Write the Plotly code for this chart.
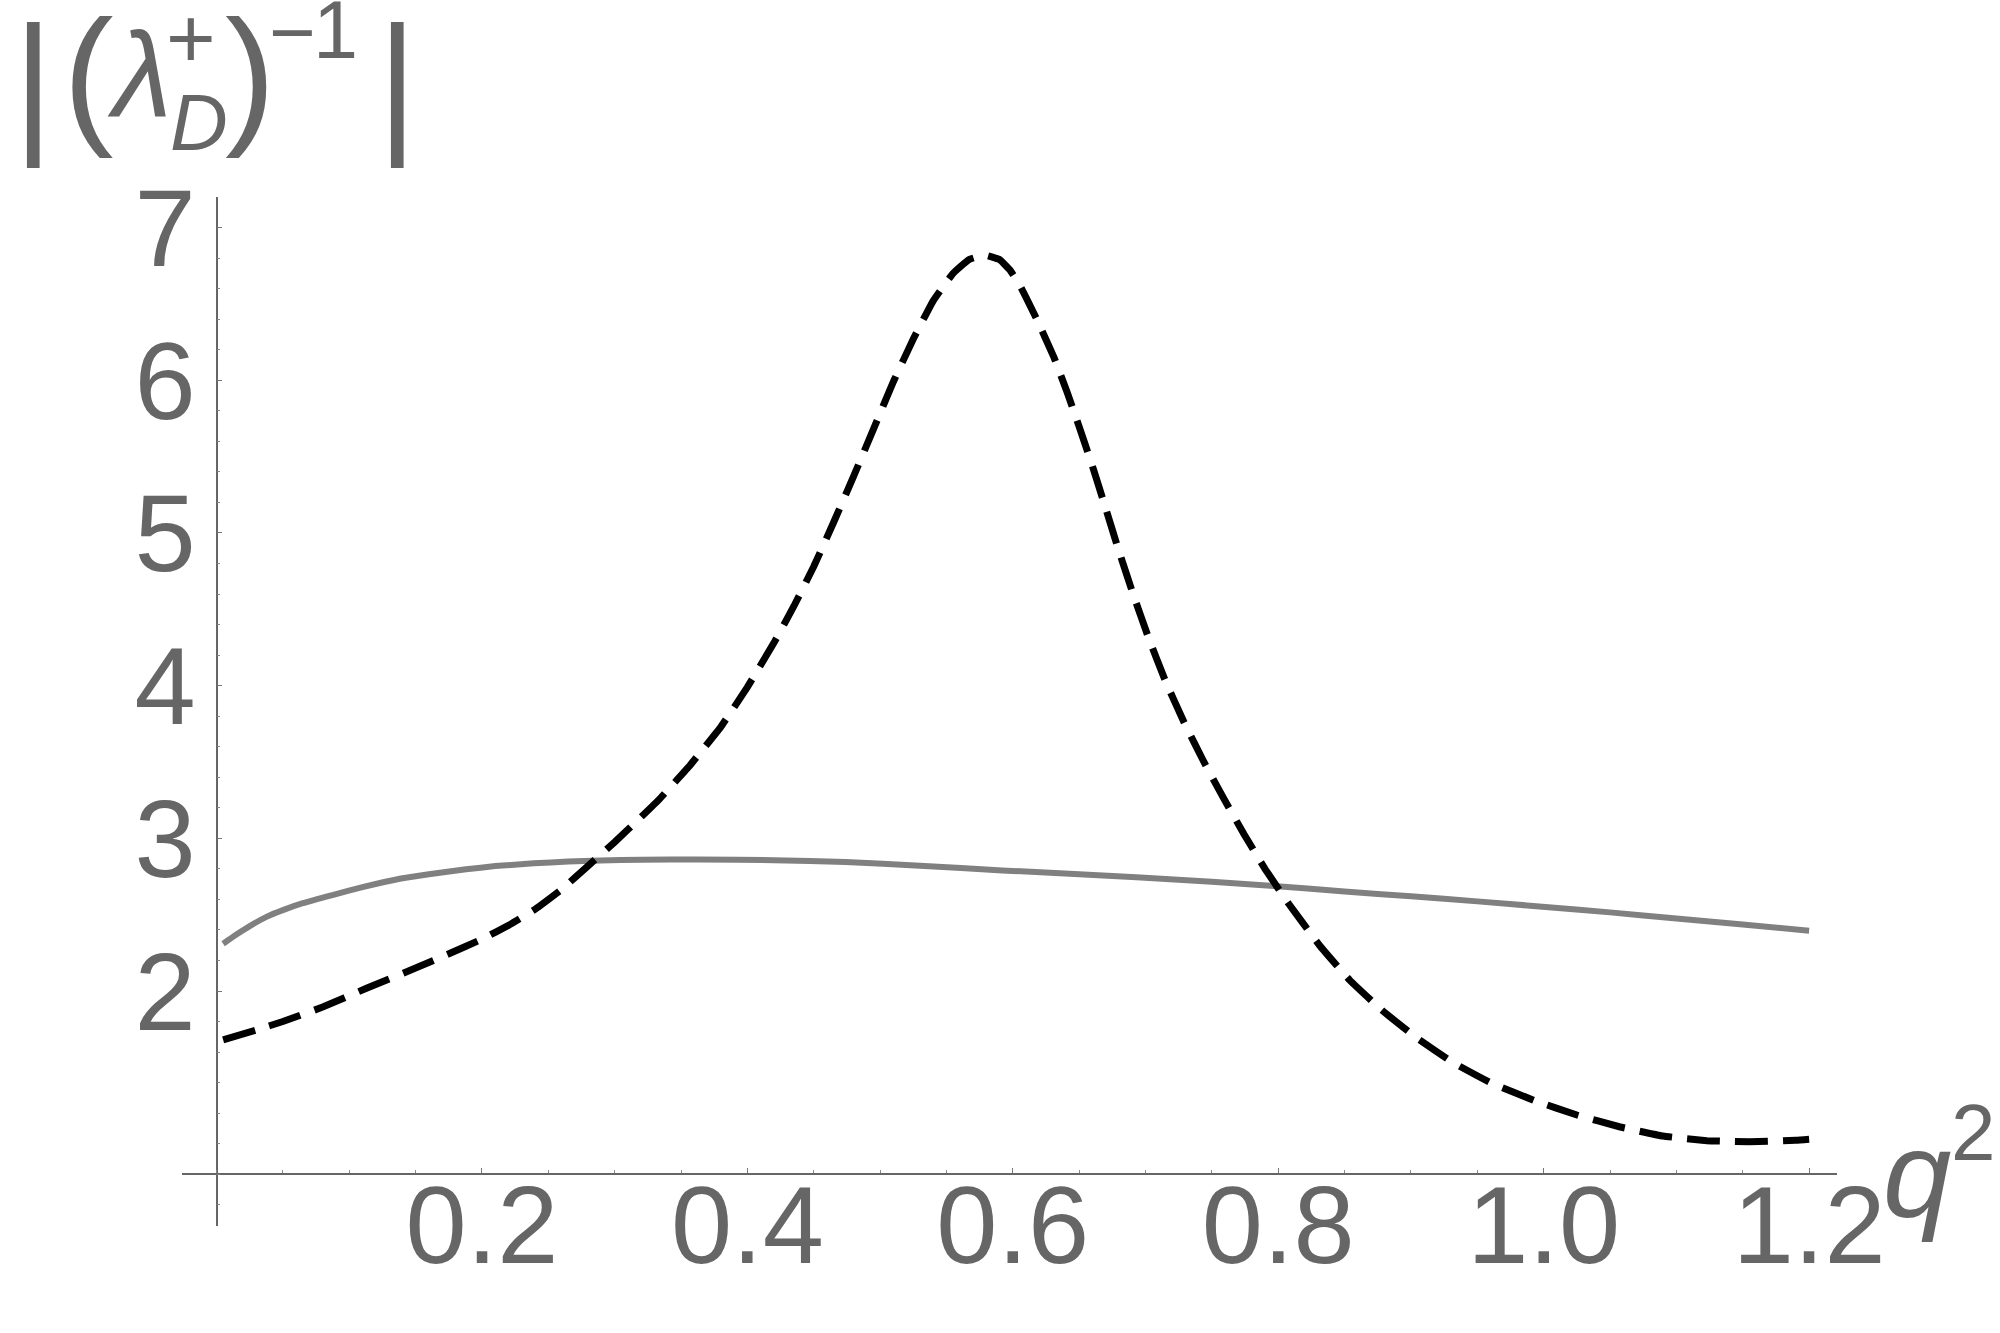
import plotly.graph_objects as go

# ---------------- data ----------------
q2_dashed = [0.005, 0.03, 0.05, 0.08, 0.113, 0.15, 0.176, 0.20, 0.22, 0.24,
             0.26, 0.28, 0.30, 0.32, 0.333, 0.356, 0.38, 0.40, 0.42, 0.435,
             0.45, 0.465, 0.48, 0.495, 0.51, 0.525, 0.54, 0.555, 0.567, 0.579,
             0.590, 0.598, 0.606, 0.618, 0.631, 0.641, 0.651, 0.661, 0.670, 0.680,
             0.691, 0.702, 0.715, 0.729, 0.744, 0.759, 0.774, 0.790, 0.808, 0.831,
             0.854, 0.878, 0.904, 0.932, 0.961, 0.993, 1.025, 1.057, 1.090, 1.123,
             1.155, 1.190, 1.200]
lam_dashed = [1.68, 1.745, 1.80, 1.895, 2.018, 2.15, 2.247, 2.34, 2.43, 2.535,
              2.665, 2.82, 2.975, 3.14, 3.25, 3.47, 3.73, 3.99, 4.28, 4.52,
              4.78, 5.07, 5.37, 5.68, 5.99, 6.27, 6.52, 6.70, 6.79, 6.82,
              6.79, 6.72, 6.61, 6.40, 6.15, 5.92, 5.67, 5.41, 5.16, 4.88,
              4.59, 4.32, 4.03, 3.76, 3.50, 3.26, 3.03, 2.80, 2.57, 2.30,
              2.07, 1.875, 1.695, 1.53, 1.395, 1.283, 1.188, 1.111, 1.050, 1.020,
              1.012, 1.022, 1.029]

q2_solid = [0.005, 0.015, 0.025, 0.038, 0.05, 0.065, 0.088, 0.11, 0.138, 0.16,
            0.188, 0.21, 0.239, 0.265, 0.289, 0.32, 0.364, 0.42, 0.474, 0.53,
            0.592, 0.65, 0.693, 0.75, 0.794, 0.85, 0.90, 0.95, 0.999, 1.05,
            1.10, 1.15, 1.20]
lam_solid = [2.31, 2.37, 2.425, 2.487, 2.53, 2.575, 2.63, 2.68, 2.735, 2.765,
             2.797, 2.818, 2.836, 2.848, 2.855, 2.86, 2.862, 2.857, 2.845, 2.82,
             2.79, 2.765, 2.745, 2.715, 2.69, 2.652, 2.62, 2.587, 2.552, 2.515,
             2.475, 2.435, 2.395]

x_tickvals = [0.2, 0.4, 0.6, 0.8, 1.0, 1.2]
x_ticktext = ["0.2", "0.4", "0.6", "0.8", "1.0", "1.2"]
y_tickvals = [2, 3, 4, 5, 6, 7]
y_ticktext = ["2", "3", "4", "5", "6", "7"]

x_range = [-0.026, 1.221]
y_range = [0.461, 7.2]
x_axis_cross = 0.8   # y value where horizontal axis sits
y_axis_cross = 0.0   # x value where vertical axis sits

# ---------------- layout geometry ----------------
W, H = 2000, 1333
ML, MR, MT, MB = 182, 163, 197, 107
PW, PH = W - ML - MR, H - MT - MB

GRAY = "#666666"
FONT = "Liberation Sans"

fig = go.Figure()
fig.add_trace(go.Scatter(x=q2_solid, y=lam_solid, mode="lines",
                         line=dict(color="#808080", width=6, shape="spline", smoothing=0.4),
                         showlegend=False, hoverinfo="skip"))
fig.add_trace(go.Scatter(x=q2_dashed, y=lam_dashed, mode="lines",
                         line=dict(color="black", width=7, dash="33px,15px",
                                   shape="spline", smoothing=0.3),
                         showlegend=False, hoverinfo="skip"))

xpos = (x_axis_cross - y_range[0]) / (y_range[1] - y_range[0])
ypos = (y_axis_cross - x_range[0]) / (x_range[1] - x_range[0])

fig.update_layout(
    width=W, height=H,
    margin=dict(l=ML, r=MR, t=MT, b=MB, autoexpand=False),
    paper_bgcolor="white", plot_bgcolor="white",
    xaxis=dict(range=x_range, anchor="free", position=xpos,
               showline=True, linecolor=GRAY, linewidth=1.5,
               showgrid=False, zeroline=False,
               tickmode="array", tickvals=x_tickvals, ticktext=x_ticktext,
               ticks="inside", ticklen=5, tickwidth=1, tickcolor="#777777",
               ticklabelstandoff=-44,
               tickfont=dict(family=FONT, size=110, color=GRAY),
               minor=dict(dtick=0.05, tick0=0, ticks="inside", ticklen=3,
                          tickwidth=1, tickcolor="#888888", showgrid=False)),
    yaxis=dict(range=y_range, anchor="free", position=ypos,
               showline=True, linecolor=GRAY, linewidth=1.5,
               showgrid=False, zeroline=False,
               tickmode="array", tickvals=y_tickvals, ticktext=y_ticktext,
               ticks="inside", ticklen=5, tickwidth=1, tickcolor="#777777",
               ticklabelstandoff=-2,
               tickfont=dict(family=FONT, size=110, color=GRAY),
               minor=dict(dtick=0.2, tick0=0, ticks="inside", ticklen=3,
                          tickwidth=1, tickcolor="#888888", showgrid=False)),
)


def ann(text, cx, baseline, fs):
    # place text so that its centre (x) and baseline (y) land at pixel positions
    ym = baseline - 0.3465 * fs
    return dict(text=text, xref="paper", yref="paper",
                x=(cx - ML) / PW, y=(H - MB - ym) / PH,
                xanchor="center", yanchor="middle", showarrow=False,
                font=dict(family=FONT, size=fs, color=GRAY))


annotations = [
    ann("|", 33.5, 135, 156),
    ann("(", 88, 126, 152),
    ann("<i>λ</i>", 139, 117, 120),
    ann("+", 190.5, 68, 85),
    ann("<i>D</i>", 199, 150, 80),
    ann(")", 250, 126, 152),
    ann("−", 292.5, 60, 80),
    ann("1", 335, 58, 81),
    ann("|", 397.5, 135, 156),
    ann("<i>q</i>", 1917, 1217, 123),
    ann("2", 1973, 1160, 80),
]
fig.update_layout(annotations=annotations)

fig.write_html("out.html", config={"displayModeBar": False},
               post_script="document.body.style.margin='0px';")
